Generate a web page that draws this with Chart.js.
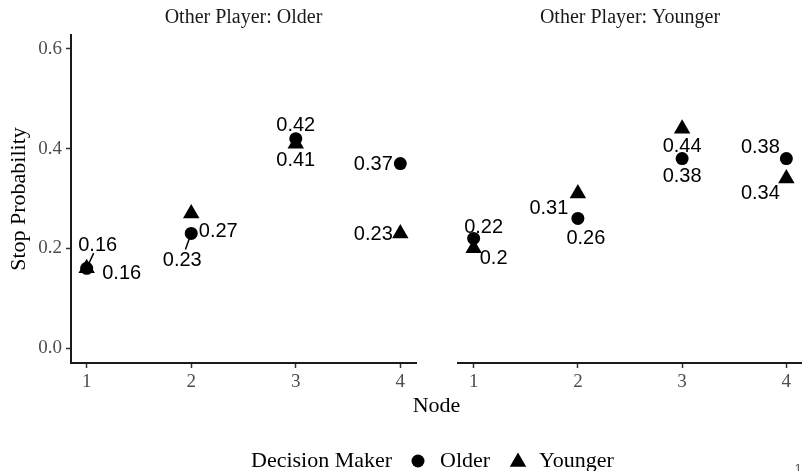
<!DOCTYPE html>
<html>
<head>
<meta charset="utf-8">
<script src="https://cdn.jsdelivr.net/npm/chart.js@4.4.1/dist/chart.umd.min.js"></script>
<style>
  html, body { margin: 0; padding: 0; background: #ffffff; }
  #wrap { position: relative; width: 802px; height: 471px; overflow: hidden; }
  #wrap canvas { position: absolute; left: 0; top: 0; }
</style>
</head>
<body>
<div id="wrap">
  <canvas id="left" width="802" height="471"></canvas>
  <canvas id="right" width="802" height="471"></canvas>
</div>
<script>
// ---- data ----
const nodes = [1, 2, 3, 4];
const panelTitles = ['Other Player: Older', 'Other Player: Younger'];
const dmNames = ['Older', 'Younger'];
const yTickValues = [0.0, 0.2, 0.4, 0.6];

// stop probability by node, other player older
const olderDM_otherOlder = [0.16, 0.23, 0.42, 0.37];
const youngerDM_otherOlder = [0.16, 0.27, 0.41, 0.23];
// stop probability by node, other player younger
const olderDM_otherYounger = [0.22, 0.26, 0.38, 0.38];
const youngerDM_otherYounger = [0.20, 0.31, 0.44, 0.34];

// ---- layout ----
const W = 802, H = 471;
const PLOT_TOP = 35, PLOT_BOTTOM = 363;
const LEFT_PANEL = { l: 71, r: 416 };
const RIGHT_PANEL = { l: 458, r: 802 };
const X_MIN = 0.85, X_MAX = 4.15;
const Y_MIN = -0.03, Y_MAX = 0.628;

const SERIF = '"Liberation Serif", "DejaVu Serif", serif';
const SANS = '"Liberation Sans", Arial, sans-serif';
const TICK_COLOR = '#4d4d4d';
const LABEL_SIZE = 20;

// label placement: [dx, dy, leader line] relative to each marker
const labelOffsets = {
  left: [
    [[11, -24, true], [-9, 25, true], [0, -15, false], [-27, -1, false]],
    [[35, 4, false], [27, 16, false], [0, 15, false], [-27, -1, false]]
  ],
  right: [
    [[10, -13, false], [8, 18, false], [0, 16, false], [-26, -13, false]],
    [[20, 8, false], [-29, 13, false], [0, 16, false], [-26, 13, false]]
  ]
};

const markerStyles = [
  { pointStyle: 'circle', radius: 6.5 },
  { pointStyle: 'triangle', radius: 9.5 }
];

function makeDatasets(olderVals, youngerVals) {
  return [olderVals, youngerVals].map((vals, i) => ({
    label: dmNames[i],
    data: nodes.map((n, j) => ({ x: n, y: vals[j] })),
    pointStyle: markerStyles[i].pointStyle,
    pointRadius: markerStyles[i].radius,
    pointHoverRadius: markerStyles[i].radius,
    pointBackgroundColor: '#000',
    pointBorderWidth: 0,
    showLine: false
  }));
}

function fmt(v) { return String(v); }

// value labels with optional leader segments
function labelPlugin(key) {
  return {
    id: 'valueLabels_' + key,
    afterDatasetsDraw(chart) {
      const ctx = chart.ctx;
      ctx.save();
      ctx.font = LABEL_SIZE + 'px ' + SANS;
      ctx.fillStyle = '#000';
      ctx.strokeStyle = '#000';
      ctx.textAlign = 'center';
      ctx.textBaseline = 'alphabetic';
      chart.data.datasets.forEach((ds, i) => {
        const meta = chart.getDatasetMeta(i);
        meta.data.forEach((pt, j) => {
          const off = labelOffsets[key][i][j];
          const cx = pt.x + off[0], cy = pt.y + off[1];
          if (off[2]) {
            const dx = off[0], dy = off[1];
            const len = Math.hypot(dx, dy);
            const ux = dx / len, uy = dy / len;
            const halfH = 7;
            const tEnd = (Math.abs(dy) - halfH) / Math.abs(uy) - 2;
            ctx.lineWidth = 1.5;
            ctx.beginPath();
            ctx.moveTo(pt.x + ux * 5, pt.y + uy * 5);
            ctx.lineTo(pt.x + ux * tEnd, pt.y + uy * tEnd);
            ctx.stroke();
          }
          ctx.fillText(fmt(ds.data[j].y), cx, cy + LABEL_SIZE * 0.358);
        });
      });
      ctx.restore();
    }
  };
}

// strip titles, axis titles and legend
function decorPlugin(key) {
  return {
    id: 'decor_' + key,
    afterDraw(chart) {
      const ctx = chart.ctx;
      const area = chart.chartArea;
      ctx.save();
      ctx.fillStyle = '#1a1a1a';
      ctx.textBaseline = 'alphabetic';
      ctx.textAlign = 'center';
      ctx.font = '20px ' + SERIF;
      ctx.fillText(panelTitles[key === 'left' ? 0 : 1], (area.left + area.right) / 2, 23);

      if (key === 'left') {
        // y axis title
        ctx.save();
        ctx.translate(25, (PLOT_TOP + PLOT_BOTTOM) / 2);
        ctx.rotate(-Math.PI / 2);
        ctx.font = '22px ' + SERIF;
        ctx.fillStyle = '#000';
        ctx.fillText('Stop Probability', 0, 0);
        ctx.restore();
      } else {
        // x axis title
        ctx.font = '22px ' + SERIF;
        ctx.fillStyle = '#000';
        ctx.fillText('Node', (LEFT_PANEL.l + RIGHT_PANEL.r) / 2, 412);

        // legend
        const ly = 467;
        ctx.textAlign = 'left';
        ctx.fillText('Decision Maker', 251, ly);
        ctx.fillStyle = '#000';
        Chart.helpers.drawPoint(ctx, { pointStyle: 'circle', radius: 6.5, borderWidth: 0, rotation: 0 }, 418, 461);
        ctx.fillText(dmNames[0], 440, ly);
        Chart.helpers.drawPoint(ctx, { pointStyle: 'triangle', radius: 9.5, borderWidth: 0, rotation: 0 }, 518, 462);
        ctx.fillText(dmNames[1], 539, ly);

        // page number in the corner
        ctx.font = '13px ' + SANS;
        ctx.fillStyle = '#555';
        ctx.textAlign = 'center';
        ctx.fillText('1', 798, 473);
      }
      ctx.restore();
    }
  };
}

function axisBase() {
  return {
    type: 'linear',
    border: { display: true, color: '#1a1a1a', width: 2 },
    grid: { drawOnChartArea: false, drawTicks: true, tickLength: 5, tickColor: '#333', tickWidth: 1.5 }
  };
}

function buildChart(canvasId, key, olderVals, youngerVals, panel) {
  const xScale = Object.assign(axisBase(), {
    min: X_MIN, max: X_MAX,
    afterBuildTicks: s => { s.ticks = nodes.map(v => ({ value: v })); },
    afterFit: s => { s.height = H - PLOT_BOTTOM; },
    ticks: {
      font: { family: SERIF, size: 19 },
      color: TICK_COLOR,
      padding: 3,
      callback: v => String(v)
    }
  });
  const yScale = Object.assign(axisBase(), {
    display: key === 'left',
    min: Y_MIN, max: Y_MAX,
    afterBuildTicks: s => { s.ticks = yTickValues.map(v => ({ value: v })); },
    afterFit: s => { s.width = key === 'left' ? panel.l : 0; },
    ticks: {
      font: { family: SERIF, size: 19 },
      color: TICK_COLOR,
      padding: 4,
      callback: v => Number(v).toFixed(1)
    }
  });

  return new Chart(document.getElementById(canvasId), {
    type: 'scatter',
    data: { datasets: makeDatasets(olderVals, youngerVals) },
    options: {
      responsive: false,
      animation: false,
      devicePixelRatio: 1,
      layout: {
        autoPadding: false,
        padding: {
          left: key === 'left' ? 0 : panel.l,
          right: W - panel.r,
          top: PLOT_TOP,
          bottom: 0
        }
      },
      plugins: { legend: { display: false }, tooltip: { enabled: false } },
      scales: { x: xScale, y: yScale }
    },
    plugins: [labelPlugin(key), decorPlugin(key)]
  });
}

buildChart('left', 'left', olderDM_otherOlder, youngerDM_otherOlder, LEFT_PANEL);
buildChart('right', 'right', olderDM_otherYounger, youngerDM_otherYounger, RIGHT_PANEL);
</script>
</body>
</html>
